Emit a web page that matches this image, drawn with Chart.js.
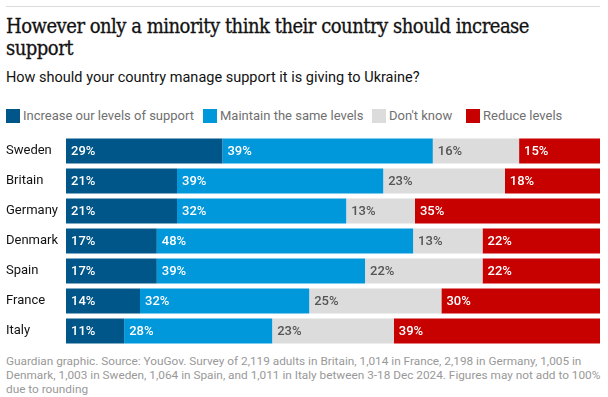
<!DOCTYPE html>
<html>
<head>
<meta charset="utf-8">
<script src="https://cdn.jsdelivr.net/npm/chart.js@4"></script>
<style>
  body { margin: 0; width: 608px; height: 397px; background: #fff; font-family: Roboto, "Liberation Sans", sans-serif; overflow: hidden; }
  .rule { position: absolute; left: 6px; top: 6px; width: 594px; height: 1px; background: #dcdcdc; }
  h1 { position: absolute; left: 6px; top: 15px; margin: 0; width: 545px; font-family: "DejaVu Serif Condensed", "DejaVu Serif", serif; font-stretch: condensed; font-weight: normal; font-size: 20px; line-height: 22px; color: #121212; letter-spacing: -0.5px; -webkit-text-stroke: 0.3px #121212; }
  .sub { position: absolute; left: 6px; top: 69px; font-size: 14.5px; color: #121212; }
  .legend { position: absolute; left: 6px; top: 108px; font-size: 13px; color: #707070; }
  .legend span { position: absolute; white-space: nowrap; line-height: 16px; padding-left: 17px; }
  .legend i { position: absolute; left: 0; top: 1px; width: 14px; height: 14px; }
  .wrap { position: absolute; left: 0; top: 136px; width: 608px; height: 210px; }
  .foot { position: absolute; left: 6px; top: 354px; width: 598px; font-size: 11.8px; line-height: 14px; color: #999; }
</style>
</head>
<body>
<div class="rule"></div>
<h1>However only a minority think their country should increase support</h1>
<div class="sub">How should your country manage support it is giving to Ukraine?</div>
<div class="legend" id="legend"></div>
<div class="wrap"><canvas id="chart" width="608" height="210"></canvas></div>
<div class="foot">Guardian graphic. Source: YouGov. Survey of 2,119 adults in Britain, 1,014 in France, 2,198 in Germany, 1,005 in Denmark, 1,003 in Sweden, 1,064 in Spain, and 1,011 in Italy between 3-18 Dec 2024. Figures may not add to 100% due to rounding</div>
<script>
const countries = ["Sweden", "Britain", "Germany", "Denmark", "Spain", "France", "Italy"];
const seriesNames = ["Increase our levels of support", "Maintain the same levels", "Don't know", "Reduce levels"];
const increase = [29, 21, 21, 17, 17, 14, 11];
const maintain = [39, 39, 32, 48, 39, 32, 28];
const dontKnow = [16, 23, 13, 13, 22, 25, 23];
const reduce = [15, 18, 35, 22, 22, 30, 39];
const colors = ["#005689", "#0097db", "#dcdcdc", "#c70000"];
const labelColors = ["#fff", "#fff", "#555", "#fff"];
const legendX = [0, 197, 366, 460];

const series = [increase, maintain, dontKnow, reduce];
// rows don't always sum to 100 (rounding), so bars are drawn as share of the row total
const totals = countries.map((_, i) => series.reduce((s, d) => s + d[i], 0));

const legend = document.getElementById("legend");
seriesNames.forEach((name, i) => {
    const s = document.createElement("span");
    s.style.left = legendX[i] + "px";
    s.innerHTML = '<i style="background:' + colors[i] + '"></i>' + name;
    legend.appendChild(s);
});

const barLabels = {
    id: "barLabels",
    afterDatasetsDraw(chart) {
        const c = chart.ctx;
        c.save();
        c.font = "500 13px Roboto, 'Liberation Sans', sans-serif";
        c.textBaseline = "middle";
        c.textAlign = "left";
        chart.data.datasets.forEach((ds, di) => {
            chart.getDatasetMeta(di).data.forEach((bar, i) => {
                c.fillStyle = labelColors[di];
                c.fillText(series[di][i] + "%", Math.min(bar.base, bar.x) + 5, bar.y + 1);
            });
        });
        c.restore();
    }
};

new Chart(document.getElementById("chart"), {
    type: "bar",
    data: {
        labels: countries,
        datasets: series.map((d, i) => ({
            label: seriesNames[i],
            data: d.map((v, j) => v / totals[j] * 100),
            backgroundColor: colors[i],
            borderWidth: 0,
            barPercentage: 0.84,
            categoryPercentage: 1
        }))
    },
    options: {
        indexAxis: "y",
        responsive: false,
        animation: false,
        layout: { padding: { left: 6, right: 8, top: 0, bottom: 0 } },
        plugins: { legend: { display: false }, tooltip: { enabled: false } },
        scales: {
            x: { stacked: true, min: 0, max: 100, display: false },
            y: {
                stacked: true,
                grid: { display: false },
                border: { display: false },
                afterFit: s => {
                    s.width = 60;
                    // labels sit mid-band, no extra room needed above/below
                    s.paddingTop = 0;
                    s.paddingBottom = 0;
                },
                ticks: {
                    crossAlign: "far",
                    color: "#121212",
                    font: { family: "Roboto, 'Liberation Sans', sans-serif", size: 13 }
                }
            }
        }
    },
    plugins: [barLabels]
});
</script>
</body>
</html>
